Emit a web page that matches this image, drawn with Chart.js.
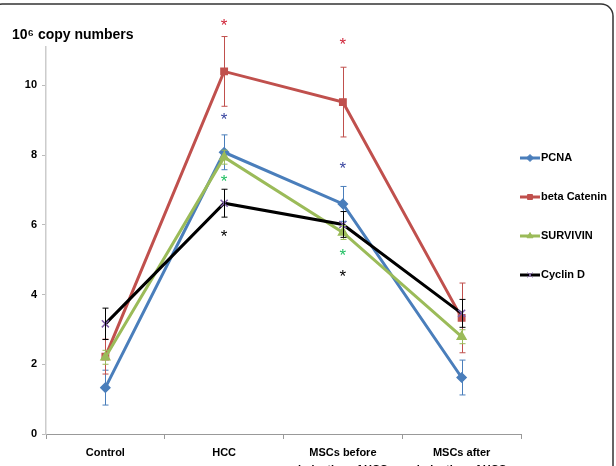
<!DOCTYPE html>
<html>
<head>
<meta charset="utf-8">
<script src="https://cdn.jsdelivr.net/npm/chart.js@4.4.1/dist/chart.umd.min.js"></script>
<style>
  html, body { margin: 0; padding: 0; background: #fff; overflow: hidden; }
  canvas { display: block; }
</style>
</head>
<body>
<canvas id="copyChart" width="616" height="478"></canvas>
<script>
// categories and series (10^6 copy numbers)
const groups = ['Control', 'HCC', ['MSCs before', 'induction of HCC'], ['MSCs after', 'induction of HCC']];
const pcna = [1.33, 8.08, 6.6, 1.62];
const betaCatenin = [2.22, 10.4, 9.52, 3.33];
const survivin = [2.2, 7.94, 5.78, 2.79];
const cyclinD = [3.16, 6.62, 6.01, 3.46];

// error bar half-widths
const pcnaErr = [0.5, 0.5, 0.5, 0.5];
const betaErr = [0.5, 1.0, 1.0, 1.0];
const survivinErr = [0.2, 0.2, 0.2, 0.2];
const cyclinErr = [0.45, 0.4, 0.37, 0.4];

// significance stars (value positions), null = none
const pcnaStar = [null, 9.12, 7.71, null];
const betaStar = [null, 11.83, 11.28, null];
const survivinStar = [null, 7.34, 5.21, null];
const cyclinStar = [null, 5.76, 4.63, null];

const yTicks = [0, 2, 4, 6, 8, 10];

const FONT = '"Liberation Sans", Arial, sans-serif';

const seriesInfo = [
    { label: 'PCNA', data: pcna, err: pcnaErr, star: pcnaStar, color: '#4a7ebb', starColor: '#3a46a0', point: 'rectRot', r: 4.5 },
    { label: 'beta Catenin', data: betaCatenin, err: betaErr, star: betaStar, color: '#c0504d', starColor: '#d0263a', point: 'rect', r: 4.5 },
    { label: 'SURVIVIN', data: survivin, err: survivinErr, star: survivinStar, color: '#9bbb59', starColor: '#22c064', point: 'triangle', r: 5 },
    { label: 'Cyclin D', data: cyclinD, err: cyclinErr, star: cyclinStar, color: '#000000', starColor: '#000000', point: 'crossRot', r: 5, pointColor: '#7f5fa8' }
];

// error bars + stars + frame + title + legend
const extras = {
    id: 'extras',
    afterDatasetsDraw(chart) {
        const ctx = chart.ctx;
        const xs = chart.scales.x, ys = chart.scales.y;
        ctx.save();
        seriesInfo.forEach(s => {
            ctx.strokeStyle = s.color;
            ctx.lineWidth = 1;
            s.data.forEach((v, i) => {
                const x = Math.round(xs.getPixelForValue(i)) + 0.5;
                const top = ys.getPixelForValue(v + s.err[i]);
                const bot = ys.getPixelForValue(v - s.err[i]);
                ctx.beginPath();
                ctx.moveTo(x, top); ctx.lineTo(x, bot);
                ctx.moveTo(x - 3, top); ctx.lineTo(x + 3, top);
                ctx.moveTo(x - 3, bot); ctx.lineTo(x + 3, bot);
                ctx.stroke();
            });
        });
        // stars
        ctx.font = '17px ' + FONT;
        ctx.textAlign = 'center';
        ctx.textBaseline = 'alphabetic';
        const m = ctx.measureText('*');
        const off = (m.actualBoundingBoxAscent - m.actualBoundingBoxDescent) / 2;
        seriesInfo.forEach(s => {
            ctx.fillStyle = s.starColor;
            s.star.forEach((v, i) => {
                if (v === null) return;
                ctx.fillText('*', xs.getPixelForValue(i), ys.getPixelForValue(v) + off);
            });
        });
        ctx.restore();
    },
    afterDraw(chart) {
        const ctx = chart.ctx;
        ctx.save();
        // title
        ctx.fillStyle = '#000';
        ctx.font = 'bold 14px ' + FONT;
        ctx.textBaseline = 'middle';
        ctx.textAlign = 'left';
        ctx.fillText('10\u2076 copy numbers', 12, 35);
        // legend
        ctx.font = 'bold 11px ' + FONT;
        seriesInfo.forEach((s, i) => {
            const y = 158 + i * 39;
            ctx.strokeStyle = s.color;
            ctx.lineWidth = 3;
            ctx.beginPath();
            ctx.moveTo(520, y); ctx.lineTo(540, y);
            ctx.stroke();
            ctx.fillStyle = s.pointColor || s.color;
            ctx.strokeStyle = s.pointColor || s.color;
            ctx.lineWidth = 1;
            Chart.helpers.drawPoint(ctx, { pointStyle: s.point, radius: 3.5, rotation: 0, borderWidth: 1 }, 530, y);
            ctx.fillStyle = '#000';
            ctx.fillText(s.label, 541, y);
        });
        // frame
        ctx.strokeStyle = '#333';
        ctx.lineWidth = 1.5;
        ctx.beginPath();
        ctx.roundRect(-10, 4, 623, 500, 12);
        ctx.stroke();
        ctx.restore();
    }
};

const ctx = document.getElementById('copyChart').getContext('2d');
new Chart(ctx, {
    type: 'line',
    data: {
        labels: groups,
        datasets: seriesInfo.map((s, i) => ({
            label: s.label,
            data: s.data,
            borderColor: s.color,
            backgroundColor: s.pointColor || s.color,
            pointBorderColor: s.pointColor || s.color,
            pointBackgroundColor: s.pointColor || s.color,
            pointStyle: s.point,
            pointRadius: s.r,
            pointBorderWidth: 1.5,
            borderWidth: 3,
            tension: 0,
            fill: false,
            order: 4 - i
        }))
    },
    options: {
        responsive: false,
        animation: false,
        events: [],
        layout: { padding: { left: 6, right: 95, top: 47, bottom: 0 } },
        plugins: {
            legend: { display: false },
            tooltip: { enabled: false }
        },
        scales: {
            x: {
                offset: true,
                grid: { offset: true, drawOnChartArea: false, tickLength: 5, color: '#999' },
                border: { color: '#999', width: 1 },
                ticks: {
                    color: '#000',
                    font: { family: FONT, size: 11, weight: 'bold', lineHeight: 1.5 },
                    padding: 6,
                    maxRotation: 0,
                    autoSkip: false
                },
                afterFit: s => { s.height = 478 - 434; }
            },
            y: {
                min: 0,
                max: 11.1,
                afterBuildTicks: s => { s.ticks = yTicks.map(v => ({ value: v })); },
                grid: { drawOnChartArea: false, tickLength: 4, color: '#bbb' },
                border: { color: '#ccc', width: 1.5 },
                ticks: {
                    color: '#000',
                    font: { family: FONT, size: 11, weight: 'bold' },
                    padding: 5
                },
                afterFit: s => { s.width = 40; }
            }
        }
    },
    plugins: [extras]
});
</script>
</body>
</html>
